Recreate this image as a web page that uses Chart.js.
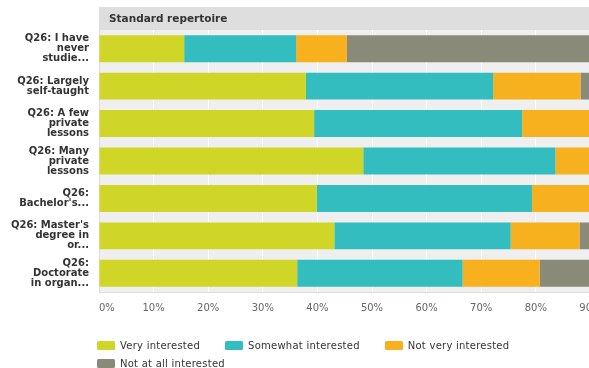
<!DOCTYPE html>
<html><head><meta charset="utf-8">
<script src="https://cdn.jsdelivr.net/npm/chart.js@4.4.1/dist/chart.umd.min.js"></script>
<style>
html,body{margin:0;padding:0;background:#fff;overflow:hidden;width:589px;height:368px}
#wrap{position:relative;width:660px;height:368px}
#legend{position:absolute;left:97px;top:336px;width:470px;display:flex;flex-wrap:wrap;column-gap:25px;font:10px "DejaVu Sans",sans-serif;color:#333;letter-spacing:0.25px}
.item{display:flex;align-items:center;height:18px;white-space:nowrap}
.box{width:18px;height:9px;border-radius:1.5px;margin-right:5px}
</style></head><body>
<div id="wrap"><canvas id="c" width="660" height="368"></canvas><div id="legend"></div></div>
<script>
const categories = [
  ["Q26: I have","never","studie..."],
  ["Q26: Largely","self-taught"],
  ["Q26: A few","private","lessons"],
  ["Q26: Many","private","lessons"],
  ["Q26:","Bachelor's..."],
  ["Q26: Master's","degree in","or..."],
  ["Q26:","Doctorate","in organ..."]
];
const seriesNames = ["Very interested","Somewhat interested","Not very interested","Not at all interested"];
const seriesColors = ["#cfd627","#33bdbf","#f7b01e","#8a8a78"];
const veryInterested     = [15.6, 37.9, 39.4, 48.4, 39.9, 43.1, 36.3];
const somewhatInterested = [20.5, 34.3, 38.1, 35.2, 39.4, 32.3, 30.3];
const notVeryInterested  = [ 9.3, 16.0, 22.5, 16.4, 20.7, 12.6, 14.1];
const notAtAllInterested = [54.6, 11.8,  0.0,  0.0,  0.0, 12.0, 19.4];
const tickValues = [0,10,20,30,40,50,60,70,80,90,100];
const panelTitle = "Standard repertoire";

const seriesValues = [veryInterested, somewhatInterested, notVeryInterested, notAtAllInterested];

const panelBg = {
  id: 'panelBg',
  beforeDraw(chart){
    const {ctx, chartArea:a} = chart;
    ctx.save();
    ctx.fillStyle = '#efefef';
    ctx.fillRect(a.left, a.top, a.right - a.left, a.bottom - a.top);
    ctx.fillStyle = '#dedede';
    ctx.fillRect(a.left, 7, chart.width - a.left, a.top - 7);
    ctx.fillStyle = '#333';
    ctx.font = 'bold 10.5px "DejaVu Sans", sans-serif';
    ctx.textBaseline = 'middle';
    ctx.fillText(panelTitle, a.left + 10, (7 + a.top) / 2 + 0.5);
    ctx.restore();
  }
};

new Chart(document.getElementById('c'), {
  type: 'bar',
  data: {
    labels: categories,
    datasets: seriesNames.map((n, i) => ({
      label: n,
      data: seriesValues[i],
      backgroundColor: seriesColors[i],
      borderWidth: 0,
      barPercentage: 0.72,
      categoryPercentage: 1
    }))
  },
  options: {
    indexAxis: 'y',
    responsive: false,
    animation: false,
    devicePixelRatio: 1,
    layout: { padding: { top: 30, right: 15, bottom: 54, left: 0 } },
    plugins: { legend: { display: false }, tooltip: { enabled: false } },
    scales: {
      x: {
        stacked: true, min: 0, max: 100,
        afterBuildTicks(s){ s.ticks = tickValues.map(v => ({value: v})); },
        afterFit(s){ s.height = 22; },
        grid: { color: '#ffffff', lineWidth: 1, drawTicks: false },
        border: { color: '#dddddd' },
        ticks: {
          padding: 10.5, align: 'inner', maxRotation: 0, autoSkip: false,
          color: '#666', font: { family: '"DejaVu Sans", sans-serif', size: 10 },
          callback: v => v + '%'
        }
      },
      y: {
        stacked: true,
        afterFit(s){ s.width = 99; },
        grid: { display: false, drawTicks: false },
        border: { color: '#dddddd' },
        ticks: {
          padding: 10, autoSkip: false, color: '#333',
          font: { family: '"DejaVu Sans", sans-serif', size: 10, weight: 'bold', lineHeight: 1.0 }
        }
      }
    }
  },
  plugins: [panelBg]
});

const lg = document.getElementById('legend');
seriesNames.forEach((n, i) => {
  const it = document.createElement('div'); it.className = 'item';
  const b = document.createElement('span'); b.className = 'box'; b.style.background = seriesColors[i];
  const t = document.createElement('span'); t.textContent = n;
  it.appendChild(b); it.appendChild(t); lg.appendChild(it);
});
</script>
</body></html>
